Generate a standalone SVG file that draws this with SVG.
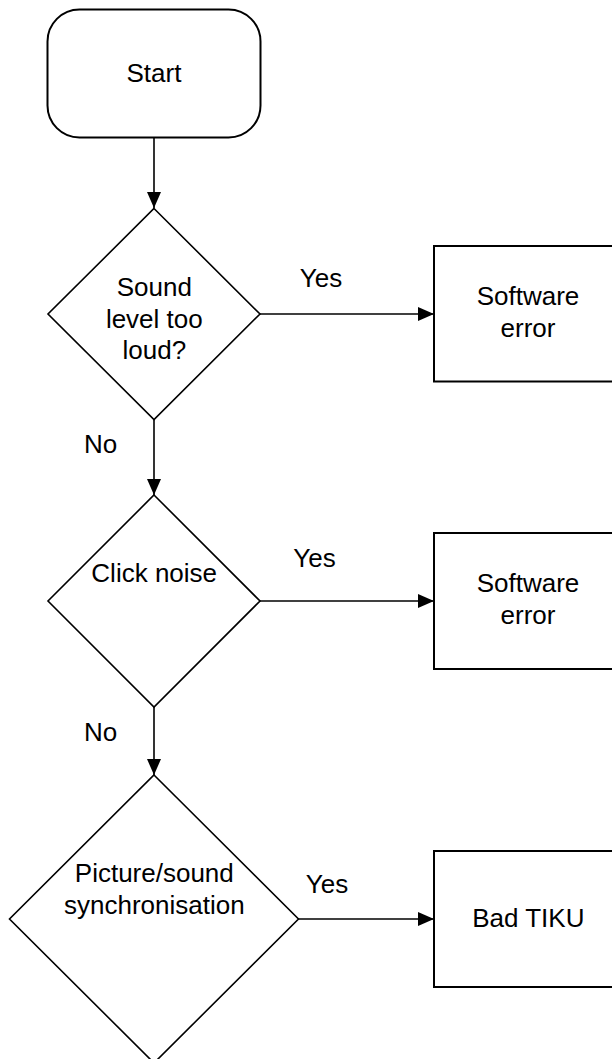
<svg xmlns="http://www.w3.org/2000/svg" width="612" height="1059" viewBox="0 0 612 1059">
<style>
.shape{fill:#fff;stroke:#000;stroke-width:2}
.dia{fill:#fff;stroke:#000;stroke-width:1.6}
.conn{fill:none;stroke:#000;stroke-width:1.6;marker-end:url(#arr)}
text{font-family:"Liberation Sans",Arial,sans-serif;font-size:26px;fill:#000;text-anchor:middle}
</style>
<defs>
<marker id="arr" viewBox="0 0 16 14" refX="16" refY="7" markerWidth="16" markerHeight="14" markerUnits="userSpaceOnUse" orient="auto">
<path d="M0,0 L16,7 L0,14 Z" fill="#000"/>
</marker>
</defs>
<rect width="612" height="1059" fill="#fff"/>
<g id="connectors">
<line class="conn" x1="154" y1="138" x2="154" y2="208"/>
<line class="conn" x1="260" y1="314" x2="434" y2="314"/>
<line class="conn" x1="154" y1="419" x2="154" y2="495"/>
<line class="conn" x1="260" y1="601" x2="434" y2="601"/>
<line class="conn" x1="154" y1="707" x2="154" y2="775"/>
<line class="conn" x1="298" y1="919" x2="434" y2="919"/>
<text x="321" y="287">Yes</text>
<text x="100.5" y="453">No</text>
<text x="314.5" y="567">Yes</text>
<text x="100.5" y="741">No</text>
<text x="327" y="893">Yes</text>
</g>
<g id="start">
<rect class="shape" x="47.5" y="9.5" width="213" height="128" rx="32" ry="32"/>
<text x="154" y="82">Start</text>
</g>
<g id="d1">
<polygon class="dia" points="154,208.5 260,314 154,419.5 48,314"/>
<text x="154.3" y="296">Sound</text>
<text x="154.3" y="328">level too</text>
<text x="154.3" y="359">loud?</text>
</g>
<g id="b1">
<rect class="shape" x="434" y="246" width="188" height="135.5"/>
<text x="528" y="305">Software</text>
<text x="528" y="337">error</text>
</g>
<g id="d2">
<polygon class="dia" points="154,495 260,601 154,707 48,601"/>
<text x="154.2" y="582">Click noise</text>
</g>
<g id="b2">
<rect class="shape" x="434" y="533" width="188" height="136"/>
<text x="528" y="592">Software</text>
<text x="528" y="624">error</text>
</g>
<g id="d3">
<polygon class="dia" points="154,775 298.5,919 154,1063 9.5,919"/>
<text x="154.3" y="882">Picture/sound</text>
<text x="154.3" y="914">synchronisation</text>
</g>
<g id="b3">
<rect class="shape" x="434" y="851" width="188" height="136"/>
<text x="528.3" y="927">Bad TIKU</text>
</g>
</svg>
